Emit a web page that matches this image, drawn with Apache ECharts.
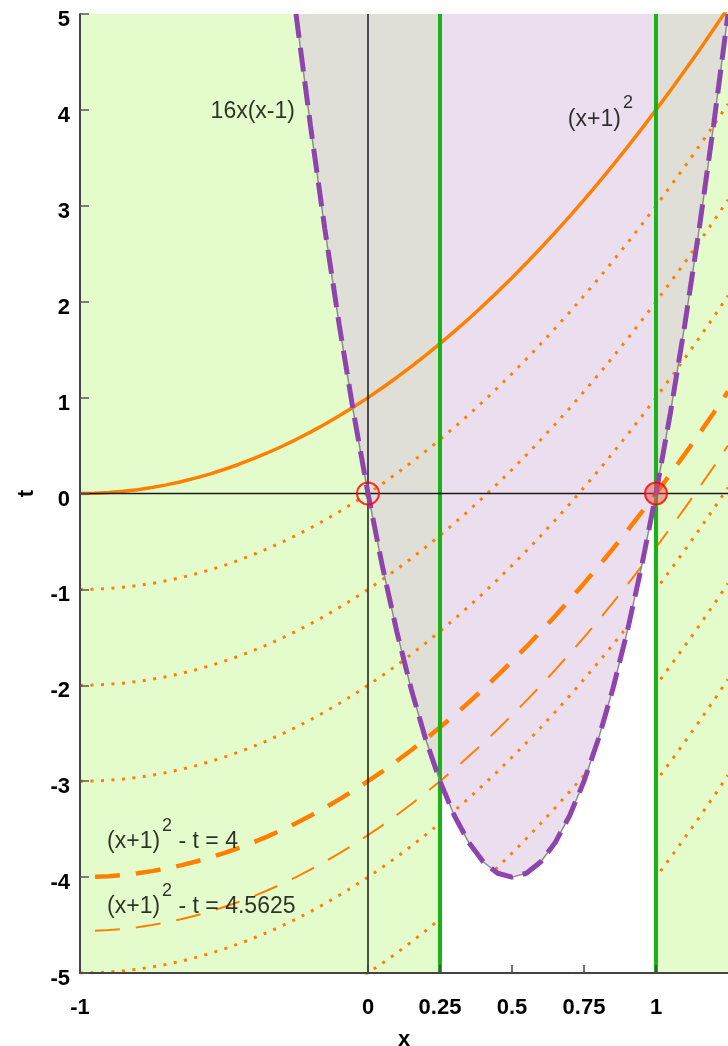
<!DOCTYPE html>
<html>
<head>
<meta charset="utf-8">
<script src="https://cdn.jsdelivr.net/npm/echarts@6/dist/echarts.min.js"></script>
<style>
  html, body { margin: 0; padding: 0; background: #ffffff; }
  #chart { width: 728px; height: 1046px; }
</style>
</head>
<body>
<div id="chart"></div>
<script>
// Sample abscissae shared by every curve
const xSamples = [-1, -0.95, -0.9, -0.85, -0.8, -0.75, -0.7, -0.65, -0.6, -0.55,
  -0.5, -0.45, -0.4, -0.35, -0.3, -0.25, -0.2, -0.15, -0.1, -0.05,
  0, 0.05, 0.1, 0.15, 0.2, 0.25, 0.3, 0.35, 0.4, 0.45,
  0.5, 0.55, 0.6, 0.65, 0.7, 0.75, 0.8, 0.85, 0.9, 0.95,
  1, 1.05, 1.1, 1.15, 1.2, 1.25];

// (x+1)^2 at each sample
const squareValues = [0, 0.0025, 0.01, 0.0225, 0.04, 0.0625, 0.09, 0.1225, 0.16, 0.2025,
  0.25, 0.3025, 0.36, 0.4225, 0.49, 0.5625, 0.64, 0.7225, 0.81, 0.9025,
  1, 1.1025, 1.21, 1.3225, 1.44, 1.5625, 1.69, 1.8225, 1.96, 2.1025,
  2.25, 2.4025, 2.56, 2.7225, 2.89, 3.0625, 3.24, 3.4225, 3.61, 3.8025,
  4, 4.2025, 4.41, 4.6225, 4.84, 5.0625];

// 16x(x-1) from x = -0.25 to x = 1.25
const parabolaX = xSamples.slice(15);
const parabolaT = [5, 3.84, 2.76, 1.76, 0.84, 0, -0.76, -1.44, -2.04, -2.56,
  -3, -3.36, -3.64, -3.84, -3.96, -4, -3.96, -3.84, -3.64, -3.36,
  -3, -2.56, -2.04, -1.44, -0.76, 0, 0.84, 1.76, 2.76, 3.84, 5];

// level curves (x+1)^2 - t = c
const dottedLevels = [1, 2, 3, 5, 6, 7, 8];
const boldLevel = 4;
const thinLevel = 4.5625;

// vertical guides, shaded bands, contact points
const guideX = [0.25, 1];
const greenBands = [[-1, 0.25], [1, 1.25]];
const contactPoints = [[0, 0], [1, 0]];

// axes
const xRange = [-1, 1.25];
const tRange = [-5, 5];
const xTickValues = [-1, 0, 0.25, 0.5, 0.75, 1];

// annotations
const noteTexts = ['16x(x-1)', '(x+1){s|2}', '(x+1){s|2} - t = 4', '(x+1){s|2} - t = 4.5625'];
const notePositions = [[-0.4, 3.98], [0.694, 3.9], [-0.906, -3.63], [-0.906, -4.31]];
const noteAligns = ['center', 'left', 'left', 'left'];

const ORANGE = '#ff8000';
const FONT = '"Liberation Sans", Arial, Helvetica, sans-serif';

const pairs = (xs, ts) => xs.map((x, i) => [x, ts[i]]);
const level = c => pairs(xSamples, squareValues.map(v => v - c));

function line(data, lineStyle, z, extra) {
  return Object.assign({
    type: 'line', data: data, z: z, silent: true, symbol: 'none', showSymbol: false,
    clip: true, animation: false, lineStyle: lineStyle, emphasis: { disabled: true }
  }, extra || {});
}
function fill(data, color, origin, z) {
  return line(data, { width: 0, opacity: 0 }, z, {
    areaStyle: { color: color, opacity: 1, origin: origin }
  });
}

const series = [];

// green side bands
greenBands.forEach(b => {
  series.push(fill([[b[0], tRange[1]], [b[1], tRange[1]]], '#e4fccc', 'start', 1));
});

// region above the parabola
const leftPart = pairs(parabolaX.slice(0, 11), parabolaT.slice(0, 11));
const midPart = pairs(parabolaX.slice(10, 26), parabolaT.slice(10, 26));
const rightPart = pairs(parabolaX.slice(25), parabolaT.slice(25));
series.push(fill(leftPart, '#dfdfd7', 'end', 2));
series.push(fill(midPart, '#ebdfef', 'end', 2));
series.push(fill(rightPart, '#dfdfd7', 'end', 2));

// level curves
dottedLevels.forEach(c => {
  series.push(line(level(c), { color: ORANGE, width: 3, type: [3, 7.5], cap: 'butt' }, 3));
});
series.push(line(level(thinLevel), { color: ORANGE, width: 2, type: [25, 16], dashOffset: 26, cap: 'butt' }, 3));
series.push(line(level(boldLevel), { color: ORANGE, width: 4.5, type: [25, 16], dashOffset: 26, cap: 'butt' }, 3));
series.push(line(level(0), { color: ORANGE, width: 3.5, type: 'solid' }, 3));

// region below the parabola between the guides stays white
series.push(fill(midPart, '#ffffff', 'start', 4));

// vertical guides
guideX.forEach(g => {
  series.push(line([[g, tRange[0]], [g, tRange[1]]], { color: '#17b317', width: 4 }, 5));
});

// coordinate axes through the origin
series.push(line([[0, tRange[0]], [0, tRange[1]]], { color: '#1a1a1a', width: 1.5 }, 6));
series.push(line([[xRange[0], 0], [xRange[1], 0]], { color: '#1a1a1a', width: 1.5 }, 6));

// parabola 16x(x-1)
const parabola = pairs(parabolaX, parabolaT);
series.push(line(parabola, { color: '#8c8c8c', width: 1.5 }, 7));
series.push(line(parabola, { color: '#8e44ad', width: 5, type: [24, 10], cap: 'butt' }, 8));

// contact points
series.push({
  type: 'scatter', z: 9, silent: true, animation: false, symbol: 'circle', symbolSize: 22,
  data: contactPoints.map((p, i) => ({
    value: p,
    itemStyle: {
      color: i === 0 ? 'rgba(0,0,0,0)' : 'rgba(235,80,80,0.6)',
      borderColor: '#ff0000', borderWidth: 2
    }
  }))
});

// annotations
series.push({
  type: 'scatter', z: 10, silent: true, animation: false, symbolSize: 0,
  data: notePositions.map((p, i) => ({
    value: p,
    label: {
      show: true, position: [0, 0], formatter: noteTexts[i],
      align: noteAligns[i], verticalAlign: 'middle',
      color: '#000000', fontFamily: FONT, fontSize: 23, lineHeight: 50,
      rich: { s: { fontSize: 18, lineHeight: 18, verticalAlign: 'top', padding: [0, 0, 0, 2], fontFamily: FONT, color: '#000000' } }
    }
  }))
});

const chart = echarts.init(document.getElementById('chart'), null, { renderer: 'canvas' });
chart.setOption({
  animation: false,
  backgroundColor: '#ffffff',
  grid: { left: 80, right: 0, top: 14, bottom: 73, containLabel: false, outerBoundsMode: 'none' },
  xAxis: {
    type: 'value', min: xRange[0], max: xRange[1], z: 11,
    name: 'x', nameLocation: 'middle', nameGap: 56,
    nameTextStyle: { fontFamily: FONT, fontSize: 22, fontWeight: 'bold', color: '#000' },
    splitLine: { show: false },
    axisLine: { show: true, onZero: false, lineStyle: { color: '#444', width: 2 } },
    axisTick: { show: true, inside: true, length: 8, customValues: xTickValues, lineStyle: { color: '#444', width: 1.5 } },
    axisLabel: { customValues: xTickValues, margin: 24, fontFamily: FONT, fontSize: 22, fontWeight: 'bold', color: '#000' }
  },
  yAxis: {
    type: 'value', min: tRange[0], max: tRange[1], interval: 1, z: 11,
    name: 't', nameLocation: 'middle', nameGap: 42, nameRotate: 90,
    nameTextStyle: { fontFamily: FONT, fontSize: 22, fontWeight: 'bold', color: '#000' },
    splitLine: { show: false },
    axisLine: { show: true, onZero: false, lineStyle: { color: '#444', width: 2 } },
    axisTick: { show: true, inside: true, length: 9, lineStyle: { color: '#555', width: 1.5 } },
    axisLabel: { margin: 10, fontFamily: FONT, fontSize: 22, fontWeight: 'bold', color: '#000', verticalAlign: 'top', lineHeight: 12 }
  },
  series: series
});
</script>
</body>
</html>
